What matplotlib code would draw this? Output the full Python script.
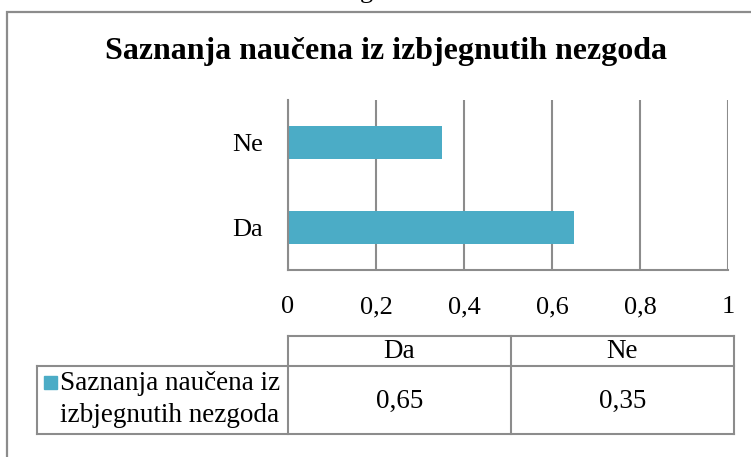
import matplotlib
matplotlib.use("Agg")
import matplotlib.pyplot as plt
from matplotlib.lines import Line2D
from matplotlib.patches import Rectangle

plt.rcParams['font.family'] = ['Liberation Serif', 'DejaVu Serif']

# Data
categories = ["Da", "Ne"]
values = [0.65, 0.35]
series_name = "Saznanja naučena iz izbjegnutih nezgoda"
title = "Saznanja naučena iz izbjegnutih nezgoda"
x_ticks = [0, 0.2, 0.4, 0.6, 0.8, 1.0]
x_tick_labels = ["0", "0,2", "0,4", "0,6", "0,8", "1"]
value_labels = ["0,65", "0,35"]

W, H = 751, 457
BAR = "#4BACC6"
GRID = "#8C8C8C"

fig = plt.figure(figsize=(W / 100, H / 100), dpi=100)


def fx(px):
    return px / W


def fy(py):
    return 1 - py / H


# outer chart frame (continues past the right and bottom edges)
fig.add_artist(Line2D([fx(7), fx(7), fx(W + 5)], [fy(H + 5), fy(12), fy(12)],
                      transform=fig.transFigure, color=GRID, lw=1.6,
                      solid_joinstyle="miter"))

# descender of the caption line above the chart
fig.text(fx(366), fy(-2), "g", ha="center", va="baseline", fontsize=19)

fig.text(fx(386), fy(52), title, ha="center", va="center",
         fontsize=23, fontweight="bold")

# plot area
ax_l, ax_r, ax_t, ax_b = 288, 728, 100, 270
ax = fig.add_axes([fx(ax_l), fy(ax_b), fx(ax_r) - fx(ax_l), fy(ax_t) - fy(ax_b)])
ypos = list(range(len(categories)))
ax.barh(ypos, values, height=0.39, color=BAR, zorder=3)
ax.set_xlim(0, 1)
ax.set_ylim(-0.5, len(categories) - 0.5)
ax.set_yticks(ypos)
ax.set_yticklabels(categories, fontsize=19)
ax.set_xticks(x_ticks)
ax.set_xticklabels(x_tick_labels, fontsize=19)
ax.tick_params(axis="both", length=0)
ax.tick_params(axis="x", pad=19)
ax.tick_params(axis="y", pad=18)
for t in x_ticks:
    ax.axvline(t, color=GRID, lw=1.5, zorder=1)
for s in ["top", "right"]:
    ax.spines[s].set_visible(False)
for s in ["left", "bottom"]:
    ax.spines[s].set_color(GRID)
    ax.spines[s].set_linewidth(1.5)
    ax.spines[s].set_zorder(4)

# data table below the plot
t_left, c1, c2, c3 = 37, 288, 511, 734
r0, r1, r2 = 336, 366, 434
lines = [
    ([c1, c3], [r0, r0]),
    ([t_left, c3], [r1, r1]),
    ([t_left, c3], [r2, r2]),
    ([t_left, t_left], [r1, r2]),
    ([c1, c1], [r0, r2]),
    ([c2, c2], [r0, r2]),
    ([c3, c3], [r0, r2]),
]
for xs, ys in lines:
    fig.add_artist(Line2D([fx(v) for v in xs], [fy(v) for v in ys],
                          transform=fig.transFigure, color=GRID, lw=1.5,
                          solid_capstyle="projecting"))

col_centers = [(c1 + c2) / 2, (c2 + c3) / 2]
for cx, cat, lab in zip(col_centers, categories, value_labels):
    fig.text(fx(cx), fy((r0 + r1) / 2 + 1), cat, ha="center", va="center", fontsize=19.5)
    fig.text(fx(cx), fy((r1 + r2) / 2 + 1), lab, ha="center", va="center", fontsize=19.5)

fig.add_artist(Rectangle((fx(44), fy(389)), fx(13), fy(376) - fy(389),
                         transform=fig.transFigure, color=BAR))
fig.text(fx(60), fy(383), "Saznanja naučena iz", ha="left", va="center", fontsize=19.5)
fig.text(fx(60), fy(415), "izbjegnutih nezgoda", ha="left", va="center", fontsize=19.5)

fig.savefig("out.png", dpi=100)
